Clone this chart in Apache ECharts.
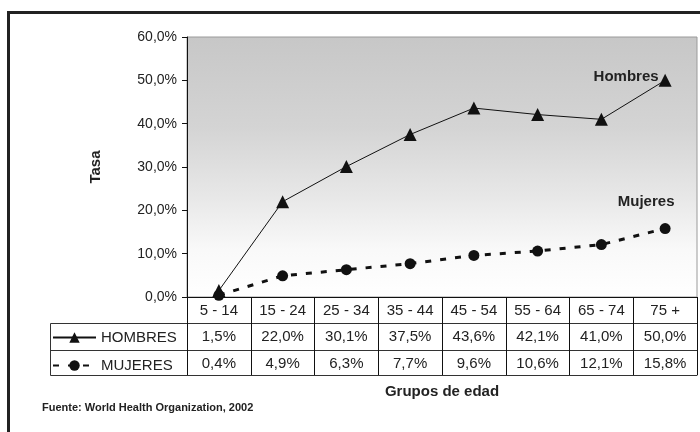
<!DOCTYPE html>
<html>
<head>
<meta charset="utf-8">
<script src="https://cdn.jsdelivr.net/npm/echarts@6/dist/echarts.min.js"></script>
<style>
  html, body { margin: 0; padding: 0; background: #fff; }
  #chart { width: 700px; height: 432px; }
</style>
</head>
<body>
<div id="chart"></div>
<script>
const grupos = ["5 - 14", "15 - 24", "25 - 34", "35 - 44", "45 - 54", "55 - 64", "65 - 74", "75 +"];
const hombres = [1.5, 22.0, 30.1, 37.5, 43.6, 42.1, 41.0, 50.0];
const mujeres = [0.4, 4.9, 6.3, 7.7, 9.6, 10.6, 12.1, 15.8];

const fmt = (v) => v.toFixed(1).replace(".", ",") + "%";
const font = "Arial, 'Liberation Sans', sans-serif";
const last = grupos.length - 1;

const chart = echarts.init(document.getElementById("chart"));

// fila de la tabla: un eje x extra con desplazamiento
function filaEje(data, offset, showLabel) {
  return {
    type: "category",
    data: data,
    position: "bottom",
    offset: offset,
    axisLine: { show: true, lineStyle: { color: "#333", width: 1 } },
    axisTick: { show: false },
    axisLabel: {
      show: showLabel,
      margin: 6,
      color: "#222",
      fontSize: 15,
      fontFamily: font,
    },
    splitLine: { show: false },
  };
}

const options = {
  animation: false,
  backgroundColor: "#fff",
  grid: {
    left: 187,
    right: 3,
    top: 37,
    bottom: 135,
    show: true,
    borderColor: "#9a9a9a",
    borderWidth: 1,
    backgroundColor: {
      type: "linear",
      x: 0, y: 0, x2: 0, y2: 1,
      colorStops: [
        { offset: 0, color: "#c7c7c7" },
        { offset: 0.35, color: "#d4d4d4" },
        { offset: 0.62, color: "#e8e8e8" },
        { offset: 0.82, color: "#f9f9f9" },
        { offset: 1, color: "#ffffff" },
      ],
    },
  },
  legend: {
    orient: "vertical",
    left: 52,
    top: 330,
    padding: 0,
    itemWidth: 43,
    itemHeight: 13,
    itemGap: 13,
    textStyle: { color: "#222", fontSize: 15, fontFamily: font },
    data: ["HOMBRES", "MUJERES"],
  },
  xAxis: [
    {
      type: "category",
      data: grupos,
      position: "bottom",
      boundaryGap: true,
      axisLine: { show: true, lineStyle: { color: "#111", width: 1 } },
      axisTick: { show: true, length: 78, lineStyle: { color: "#111" } },
      axisLabel: { margin: 6, color: "#222", fontSize: 15, fontFamily: font },
      name: "Grupos de edad",
      nameLocation: "middle",
      nameGap: 87,
      nameTextStyle: { fontWeight: "bold", fontSize: 15, color: "#222", fontFamily: font },
    },
    filaEje(hombres.map(fmt), 26, true),
    filaEje(mujeres.map(fmt), 53, true),
    filaEje(grupos, 78, false),
  ],
  yAxis: {
    type: "value",
    min: 0,
    max: 60,
    interval: 10,
    axisLine: { show: true, lineStyle: { color: "#111" } },
    axisTick: { show: true, length: 5, lineStyle: { color: "#111" } },
    axisLabel: {
      margin: 10,
      color: "#222",
      fontSize: 14,
      fontFamily: font,
      formatter: fmt,
    },
    splitLine: { show: false },
    name: "Tasa",
    nameLocation: "middle",
    nameGap: 84,
    nameTextStyle: { fontWeight: "bold", fontSize: 15, color: "#222", fontFamily: font },
  },
  series: [
    {
      name: "HOMBRES",
      type: "line",
      symbol: "triangle",
      symbolSize: 13,
      itemStyle: { color: "#111" },
      lineStyle: { color: "#111", width: 1 },
      data: hombres.map((v, i) =>
        i === last
          ? {
              value: v,
              label: {
                show: true,
                formatter: "Hombres",
                position: "left",
                distance: 0,
                offset: [0, -3],
                fontWeight: "bold",
                fontSize: 15,
                color: "#222",
                fontFamily: font,
              },
            }
          : v
      ),
    },
    {
      name: "MUJERES",
      type: "line",
      symbol: "circle",
      symbolSize: 11,
      itemStyle: { color: "#111" },
      lineStyle: { color: "#111", width: 3, type: [6, 9] },
      data: mujeres.map((v, i) =>
        i === last
          ? {
              value: v,
              label: {
                show: true,
                formatter: "Mujeres",
                position: "top",
                distance: 5,
                offset: [-19, -9],
                fontWeight: "bold",
                fontSize: 15,
                color: "#222",
                fontFamily: font,
              },
            }
          : v
      ),
    },
  ],
  graphic: [
    // marco exterior
    {
      type: "rect",
      shape: { x: 8.5, y: 12.5, width: 720, height: 440 },
      style: { fill: null, stroke: "#222", lineWidth: 3 },
    },
    // columna de leyenda de la tabla
    {
      type: "polyline",
      shape: { points: [[187, 323.5], [50.5, 323.5], [50.5, 375.5], [187, 375.5]] },
      style: { fill: null, stroke: "#333", lineWidth: 1 },
    },
    {
      type: "line",
      shape: { x1: 50.5, y1: 350.5, x2: 187, y2: 350.5 },
      style: { stroke: "#333", lineWidth: 1 },
    },
    {
      type: "text",
      left: 42,
      top: 402,
      style: {
        text: "Fuente: World Health Organization, 2002",
        font: "bold 11px 'Liberation Sans Narrow', Arial, sans-serif",
        fill: "#222",
      },
    },
  ],
};

chart.setOption(options);
</script>
</body>
</html>
